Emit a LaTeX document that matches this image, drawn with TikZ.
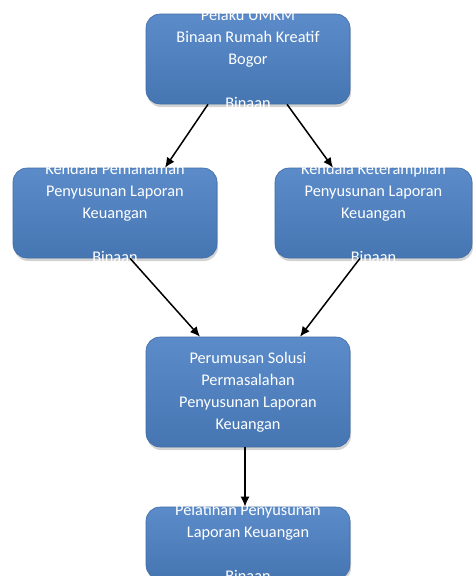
\documentclass[tikz,border=0pt]{standalone}
\usepackage{fontspec}
\setmainfont{Carlito}
\usepackage{xcolor}
\usetikzlibrary{arrows.meta,positioning,shadows,calc}

\definecolor{boxtop}{HTML}{5B8BC9}
\definecolor{boxbot}{HTML}{4676B2}
\definecolor{boxline}{HTML}{3F6CA5}

\begin{document}
\begin{tikzpicture}[
    x=1pt, y=-1pt,
    box/.style={rectangle, rounded corners=14pt, minimum width=204pt, minimum height=90pt, inner sep=0pt,
        top color=boxtop, bottom color=boxbot, draw=boxline, line width=0.6pt,
        drop shadow={shadow xshift=1pt, shadow yshift=-3pt, opacity=0.35}},
    boxtext/.style={font=\fontsize{16.3pt}{22pt}\selectfont, text=white, align=center, inner sep=0pt},
    arrow/.style={-{Latex[length=10pt, width=9pt]}, line width=1.5pt}
]
    \useasboundingbox (0,0) rectangle (473,576);

    % boxes
    \node[box] (umkm) at (248,59) {};
    \node[box] (pemahaman) at (115,213) {};
    \node[box, minimum width=197pt] (keterampilan) at (373.5,213) {};
    \node[box, minimum height=110pt] (solusi) at (248,392) {};
    \node[box, minimum height=72pt] (pelatihan) at (248,543) {};

    % texts
    \node[boxtext] (umkm_t) at (umkm) {Pelaku UMKM\\Binaan Rumah Kreatif\\Bogor\\~\\Binaan};
    \node[boxtext] (pemahaman_t) at (pemahaman) {Kendala Pemahaman\\Penyusunan Laporan\\Keuangan\\~\\Binaan};
    \node[boxtext] (keterampilan_t) at (keterampilan) {Kendala Keterampilan\\Penyusunan Laporan\\Keuangan\\~\\Binaan};
    \node[boxtext] (solusi_t) at (solusi) {Perumusan Solusi\\Permasalahan\\Penyusunan Laporan\\Keuangan};
    \node[boxtext] (pelatihan_t) at (pelatihan) {Pelatihan Penyusunan\\Laporan Keuangan\\~\\Binaan};

    % arrows
    \draw[arrow] ([xshift=-40pt]umkm.south) -- ([xshift=50pt]pemahaman.north);
    \draw[arrow] ([xshift=39pt]umkm.south) -- ([xshift=-40.5pt]keterampilan.north);
    \draw[arrow] ([xshift=15pt]pemahaman.south) -- ([xshift=-48pt]solusi.north);
    \draw[arrow] ([xshift=-13.5pt]keterampilan.south) -- ([xshift=52pt]solusi.north);
    \draw[arrow] ([xshift=-3pt]solusi.south) -- ([xshift=-3pt]pelatihan.north);
\end{tikzpicture}
\end{document}
